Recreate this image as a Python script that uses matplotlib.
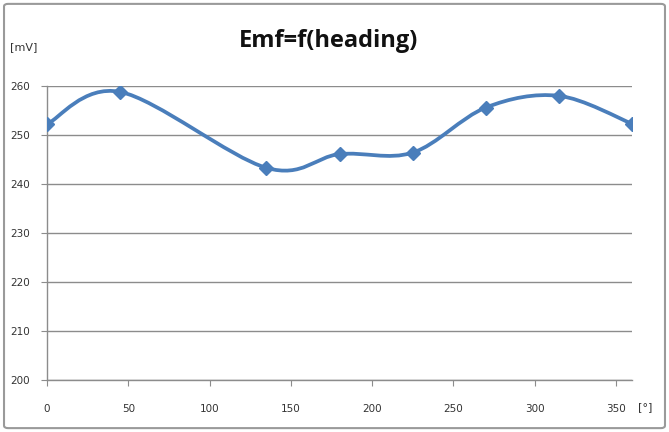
import matplotlib
matplotlib.use("Agg")
import matplotlib.pyplot as plt
from matplotlib.path import Path
from matplotlib.patches import PathPatch, FancyBboxPatch
import numpy as np

# ── data ──────────────────────────────────────────────────────────────────────
heading = [0, 45, 135, 180, 225, 270, 315, 360]
emf_mv = [252.2, 258.8, 243.3, 246.1, 246.4, 255.6, 258.0, 252.3]
x_ticks = [0, 50, 100, 150, 200, 250, 300, 350]
y_ticks = [200, 210, 220, 230, 240, 250, 260]

LINE_CLR = "#4a7ebb"
GRID_CLR = "#8c8c8c"
TEXT_CLR = "#333333"

fig = plt.figure(figsize=(6.69, 4.32), dpi=100, facecolor="white")
ax = fig.add_axes([0.0703, 0.1204, 0.8744, 0.6805])

# smoothed line (Excel-like Bezier through the points)
pts = np.column_stack([heading, emf_mv])
n = len(pts)
verts = [tuple(pts[0])]
codes = [Path.MOVETO]
for i in range(n - 1):
    p0 = pts[max(i - 1, 0)]
    p1 = pts[i]
    p2 = pts[i + 1]
    p3 = pts[min(i + 2, n - 1)]
    c1 = p1 + (p2 - p0) / 6.0
    c2 = p2 - (p3 - p1) / 6.0
    verts += [tuple(c1), tuple(c2), tuple(p2)]
    codes += [Path.CURVE4] * 3
ax.add_patch(PathPatch(Path(verts, codes), facecolor="none", edgecolor=LINE_CLR,
                       linewidth=2.7, capstyle="round", joinstyle="round", zorder=3))
ax.plot(heading, emf_mv, linestyle="none", marker="D", markersize=7,
        color=LINE_CLR, zorder=4)

ax.set_xlim(0, 360)
ax.set_ylim(200, 260)
ax.set_xticks(x_ticks)
ax.set_yticks(y_ticks)
ax.yaxis.grid(True, color=GRID_CLR, linewidth=1.0)
ax.set_axisbelow(True)
for side in ["top", "right"]:
    ax.spines[side].set_visible(False)
for side in ["left", "bottom"]:
    ax.spines[side].set_color(GRID_CLR)
    ax.spines[side].set_linewidth(1.0)
ax.tick_params(axis="both", colors=GRID_CLR, labelcolor=TEXT_CLR, labelsize=7.5,
               length=4, direction="out")
ax.tick_params(axis="x", pad=13)
ax.tick_params(axis="y", pad=8)

fig.text(0.491, 0.905, "Emf=f(heading)", ha="center", va="center",
         fontsize=17, fontweight="bold", family="Open Sans", color="#111111")
fig.text(0.036, 0.892, "[mV]", ha="center", va="center", fontsize=8, color=TEXT_CLR)
fig.text(0.965, 0.057, "[°]", ha="center", va="center", fontsize=8, color=TEXT_CLR)

# chart frame
fig.patches.append(FancyBboxPatch((0.006, 0.009), 0.988, 0.982,
                                  boxstyle="round,pad=0,rounding_size=0.006",
                                  transform=fig.transFigure, facecolor="none",
                                  edgecolor="#9a9a9a", linewidth=1.5))

fig.savefig("out.png", dpi=100, facecolor="white")
